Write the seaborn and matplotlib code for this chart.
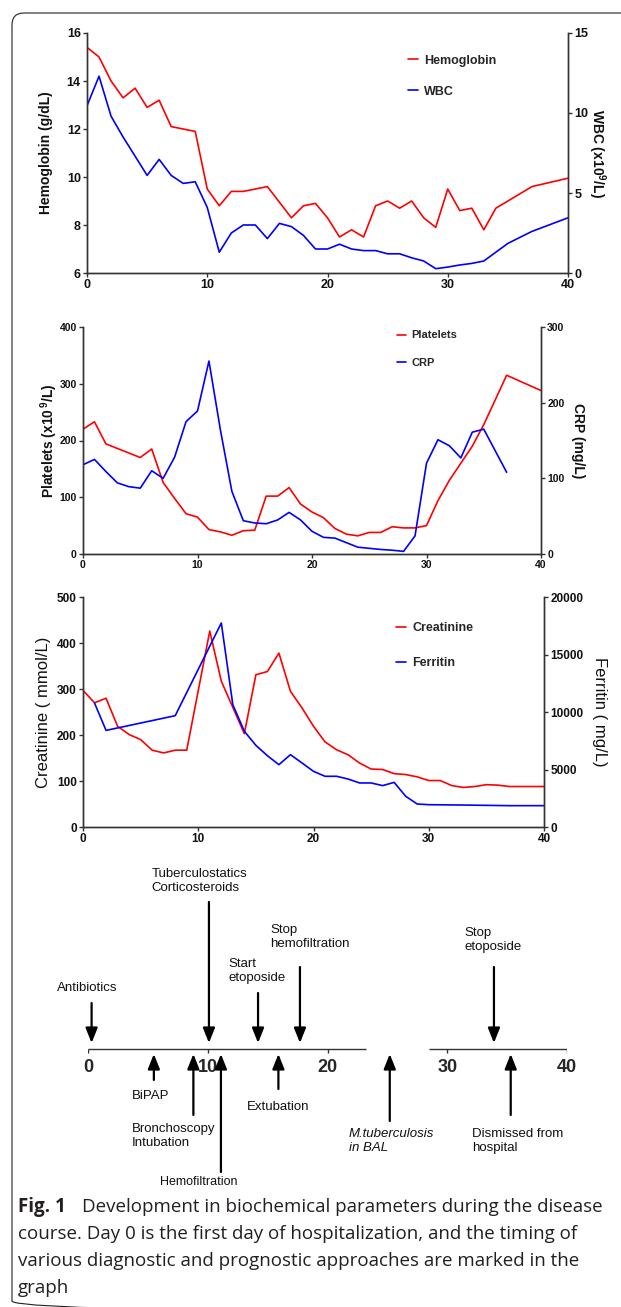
import matplotlib
matplotlib.use("Agg")
import matplotlib.pyplot as plt
import seaborn as sns
from matplotlib.patches import FancyBboxPatch

# values (day of hospitalization)
hb_days = [0, 1, 2, 3, 4, 5, 6, 7, 8, 9, 10, 11, 12, 13, 14, 15, 16, 17, 18, 19,
           20, 21, 22, 23, 24, 25, 26, 27, 28, 29, 30, 31, 32, 33, 34, 35, 37, 40]
hemoglobin = [15.4, 15.0, 14.0, 13.3, 13.7, 12.9, 13.2, 12.1, 12.0, 11.9,
              9.5, 8.8, 9.4, 9.4, 9.5, 9.6, 8.95, 8.3, 8.8, 8.9,
              8.3, 7.5, 7.8, 7.5, 8.8, 9.0, 8.7, 9.0, 8.3, 7.9,
              9.5, 8.6, 8.7, 7.8, 8.7, 9.0, 9.6, 9.95]
wbc = [10.45, 12.3, 9.8, 8.5, 7.3, 6.1, 7.1, 6.1, 5.6, 5.7,
       4.1, 1.3, 2.5, 3.0, 3.0, 2.15, 3.1, 2.9, 2.35, 1.5,
       1.5, 1.8, 1.5, 1.4, 1.4, 1.2, 1.2, 0.95, 0.75, 0.27,
       0.37, 0.5, 0.6, 0.75, 1.3, 1.85, 2.6, 3.45]

plt_days = [0, 1, 2, 5, 6, 7, 8, 9, 10, 11, 12, 13, 14, 15, 16, 17, 18, 19, 20,
            21, 22, 23, 24, 25, 26, 27, 28, 29, 30, 31, 32, 33, 34, 35, 37, 40]
platelets = [220, 233, 194, 170, 185, 126, 98, 71, 65, 43, 39, 33, 41, 42, 102, 102, 117, 88, 74,
             64, 45, 35, 32, 38, 38, 48, 46, 46, 50, 94, 130, 160, 190, 228, 315, 288]
crp_days = list(range(0, 36)) + [37]
crp = [118, 125, 109, 94, 89, 87, 110, 100, 128, 175, 189, 255, 164, 83, 44, 41, 40, 45, 55, 45,
       30, 22, 21, 15, 9, 7.5, 6, 5, 3.5, 24, 120, 151, 143, 127, 161, 165, 108]

creat_days = list(range(0, 10)) + list(range(11, 38)) + [40]
creatinine = [297, 270, 280, 219, 201, 190, 167, 161, 167, 167,
              426, 317, 260, 203, 331, 338, 378, 295, 259, 219,
              185, 168, 157, 139, 126, 125, 116, 114, 109, 101,
              101, 90, 86, 88, 92, 91, 88, 88]
ferr_days = [1, 2, 8] + list(range(12, 31)) + [33, 37, 40]
ferritin = [10780, 8400, 9680, 17740, 10640, 8320, 7100, 6200, 5420, 6290, 5570, 4840,
            4410, 4410, 4170, 3830, 3830, 3600, 3880, 2670, 2000, 1940, 1910, 1855, 1855]

# treatment / event timeline
down_events = ["Antibiotics", "Tuberculostatics\nCorticosteroids", "Start\netoposide",
               "Stop\nhemofiltration", "Stop\netoposide"]
down_days = [0.3, 10.1, 14.2, 17.7, 33.9]
up_events = ["BiPAP", "Bronchoscopy\nIntubation", "Hemofiltration", "Extubation",
             "M.tuberculosis\nin BAL", "Dismissed from\nhospital"]
up_days = [5.5, 8.8, 11.1, 15.9, 25.2, 35.3]
timeline_ticks = [0, 10, 20, 30, 40]

caption = ["course. Day 0 is the first day of hospitalization, and the timing of",
           "various diagnostic and prognostic approaches are marked in the",
           "graph"]

sns.set_theme(style="ticks")
plt.rcParams['font.family'] = ['Liberation Sans', 'DejaVu Sans']
plt.rcParams['mathtext.fontset'] = 'custom'
plt.rcParams['mathtext.rm'] = 'Liberation Sans'
plt.rcParams['mathtext.bf'] = 'Liberation Sans:bold'

W, H = 621, 1307
fig = plt.figure(figsize=(W / 100, H / 100), dpi=100)


def px_axes(x0, y0, x1, y1):
    # axes placed by pixel box (top-left origin)
    return fig.add_axes([x0 / W, 1 - y1 / H, (x1 - x0) / W, (y1 - y0) / H])


# background axes for the frame and caption
bg = px_axes(0, 0, W, H)
bg.set_xlim(0, W)
bg.set_ylim(H, 0)
bg.axis('off')
bg.add_patch(FancyBboxPatch((12, 13), 700, 1300, boxstyle='round,pad=0,rounding_size=12',
                            fc='none', ec='#222222', lw=0.8))


def panel(box, x1, y1, x2, y2, names, ylim1, ylim2, step1, step2, ylabels,
          lab_x, lab_font, tick_fs, leg_fs, leg_xy, leg_space):
    ax = px_axes(*box)
    sns.lineplot(x=x1, y=y1, ax=ax, color='#ff0000', lw=1.2)
    ax2 = ax.twinx()
    sns.lineplot(x=x2, y=y2, ax=ax2, color='#0000ff', lw=1.2)
    ax.set_xlim(0, 40)
    ax.set_ylim(*ylim1)
    ax2.set_ylim(*ylim2)
    ax.set_xticks([0, 10, 20, 30, 40])
    ax.set_yticks(range(ylim1[0], ylim1[1] + 1, step1))
    ax2.set_yticks(range(ylim2[0], ylim2[1] + 1, step2))
    for a in (ax, ax2):
        a.spines['top'].set_visible(False)
        for s in a.spines.values():
            s.set_color('#333333')
            s.set_linewidth(1.0)
        a.tick_params(length=3, width=1, color='#333333', pad=1.5, labelsize=tick_fs,
                      labelcolor='#111111')
        for t in a.get_xticklabels() + a.get_yticklabels():
            t.set_fontweight('bold')
    ax.set_xlabel('')
    ax.set_ylabel(ylabels[0], **lab_font)
    ax2.set_ylabel(ylabels[1], rotation=270, va='center', **lab_font)
    ax.yaxis.set_label_coords(lab_x[0], 0.5)
    ax2.yaxis.set_label_coords(lab_x[1], 0.5)
    ax2.legend([ax.lines[0], ax2.lines[0]], names, loc='upper left', bbox_to_anchor=leg_xy,
               frameon=False, handlelength=0.8, handletextpad=0.5, labelspacing=leg_space,
               borderpad=0, borderaxespad=0, prop={'weight': 'bold', 'size': leg_fs})
    return ax, ax2


bold10 = dict(fontsize=10, fontweight='bold', color='#111111')
panel((87, 33, 568, 273), hb_days, hemoglobin, hb_days, wbc, ['Hemoglobin', 'WBC'],
      (6, 16), (0, 15), 2, 5,
      ['Hemoglobin (g/dL)', r'WBC (x10$^{\mathbf{9}}$/L)'],
      (-0.07, 1.06), bold10, 9, 9, (0.667, 0.909), 1.5)

panel((83, 327, 541, 554), plt_days, platelets, crp_days, crp, ['Platelets', 'CRP'],
      (0, 400), (0, 300), 100, 100,
      [r'Platelets (x10$^{\,\mathbf{9}}$/L)', 'CRP (mg/L)'],
      (-0.05, 1.081), bold10, 7.5, 8, (0.686, 0.985), 1.6)

panel((83, 597, 544, 827), creat_days, creatinine, ferr_days, ferritin, ['Creatinine', 'Ferritin'],
      (0, 500), (0, 20000), 100, 5000,
      ['Creatinine ( mmol/L)', 'Ferritin ( mg/L)'],
      (-0.07, 1.121), dict(fontsize=12, color='#111111'), 8.5, 9, (0.679, 0.89), 1.85)

# event timeline with a broken day axis
tl = px_axes(88, 850, 567, 1195)
tl.set_xlim(0, 40)
tl.set_ylim(1195, 850)
tl.axis('off')
tl.hlines(1049, 0, 23.2, color='#333333', lw=1.0)
tl.hlines(1049, 28.5, 40, color='#333333', lw=1.0)
tl.vlines(timeline_ticks, 1049, 1053, color='#333333', lw=1.0)
for t in timeline_ticks:
    tl.text(t, 1067, str(t), ha='center', va='center', fontsize=13, fontweight='bold')

arrow = dict(arrowstyle='-|>,head_length=0.45,head_width=0.18', lw=1.6, color='black',
             shrinkA=0, shrinkB=0, mutation_scale=20)
down_tails = [1003, 902, 993, 967, 967]
for d, y0 in zip(down_days, down_tails):
    tl.annotate('', xy=(d, 1043), xytext=(d, y0), arrowprops=arrow, annotation_clip=False)
up_tails = [1080, 1115, 1172, 1089, 1121, 1115]
for d, y0 in zip(up_days, up_tails):
    tl.annotate('', xy=(d, 1054), xytext=(d, y0), arrowprops=arrow, annotation_clip=False)

txt = dict(fontsize=9.5, va='center', ha='left', linespacing=1.2, color='#111111', clip_on=False)
down_text_pos = [(-2.55, 988), (5.3, 881), (11.7, 971), (15.2, 937), (31.4, 940)]
for s, (x, y) in zip(down_events, down_text_pos):
    tl.text(x, y, s, **txt)
up_text_pos = [(3.65, 1096), (3.65, 1136), (9.27, 1182), (13.3, 1107), (21.8, 1141), (32.1, 1141)]
for s, (x, y) in zip(up_events, up_text_pos):
    if s == "Hemofiltration":
        tl.text(x, y, s, **{**txt, 'ha': 'center', 'fontsize': 9})
    elif s.startswith("M.tub"):
        tl.text(x, y, s, style='italic', **txt)
    else:
        tl.text(x, y, s, **txt)

# figure caption
cap = dict(fontsize=13.5, family=['Open Sans', 'DejaVu Sans'], color='#231f20', va='center', ha='left')
bg.text(18, 1207, "Fig. 1", fontweight='bold', **cap)
bg.text(82, 1207, "Development in biochemical parameters during the disease", **cap)
for i, line in enumerate(caption):
    bg.text(18, 1234 + i * 27, line, **cap)

plt.savefig("out.png", dpi=100)
